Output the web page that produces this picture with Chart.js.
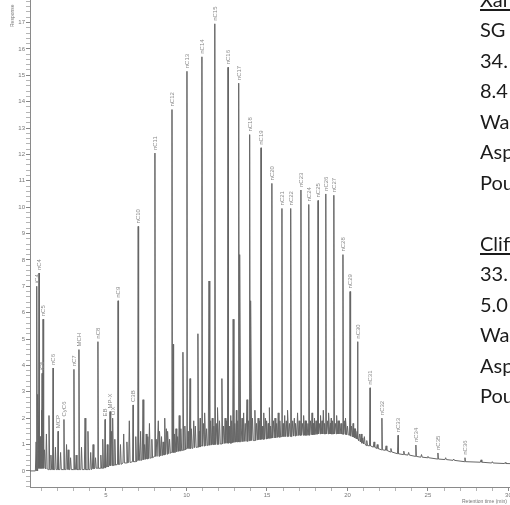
<!DOCTYPE html>
<html>
<head>
<meta charset="utf-8">
<title>Chromatogram</title>
<script src="https://cdn.jsdelivr.net/npm/chart.js@4.4.1/dist/chart.umd.min.js"></script>
<style>
  html, body { margin:0; padding:0; background:#fff; overflow:hidden; }
  .wrap { position:relative; width:510px; height:505px; overflow:hidden; }
  #gc { position:absolute; left:0; top:-4px; }
  .notes { position:absolute; left:480px; top:-16.5px; font-family:Lato, "Open Sans", sans-serif;
           font-size:20px; line-height:30.5px; color:#1b1b1b; white-space:nowrap; }
  .notes u { text-underline-offset:2px; }
</style>
</head>
<body>
<div class="wrap">
  <canvas id="gc" width="540" height="509"></canvas>
  <div class="notes">
    <div><u>Xanadu</u></div>
    <div>SG 0.85</div>
    <div>34. API</div>
    <div>8.4 cP</div>
    <div>Wax 5%</div>
    <div>Asphaltene</div>
    <div>Pour point</div>
    <div>&nbsp;</div>
    <div><u>Clifton</u></div>
    <div>33. API</div>
    <div>5.0 cP</div>
    <div>Wax 3%</div>
    <div>Asphaltene</div>
    <div>Pour point</div>
  </div>
</div>

<script>
// ********* Labelled peaks : retention time (min), response, baseline under the peak *********

const peakNames = ['iC4','nC4','iC5','nC5','nC6','MCP','CyC6','nC7','MCH','nC8','EB','MP-X','OX','nC9','C3B','nC10',
  'nC11','nC12','nC13','nC14','nC15','nC16','nC17','nC18','nC19','nC20','nC21','nC22','nC23','nC24','nC25',
  'nC26','nC27','nC28','nC29','nC30','nC31','nC32','nC33','nC34','nC35','nC36'];
const peakTimes = [0.71,0.84,1.03,1.09,1.71,2.02,2.39,3.01,3.32,4.50,4.94,5.25,5.43,5.75,6.68,7.00,
  8.04,9.10,10.03,10.96,11.77,12.58,13.26,13.94,14.63,15.31,15.93,16.49,17.11,17.61,18.17,
  18.66,19.16,19.72,20.16,20.65,21.40,22.14,23.14,24.25,25.62,27.30];
const peakTops = [7.0,7.5,3.7,5.75,3.9,1.5,1.95,3.85,4.6,4.9,1.95,2.25,2.0,6.45,2.5,9.27,
  12.05,13.7,15.15,15.7,16.95,15.3,14.7,12.75,12.25,10.9,9.95,9.95,10.65,10.1,10.25,
  10.5,10.45,8.2,6.8,4.9,3.15,2.0,1.35,0.98,0.68,0.5];
const peakFeet = [0.0,0.1,0.1,0.1,0.05,0.05,0.05,0.05,0.05,0.1,0.12,0.2,0.2,0.25,0.35,0.4,
  0.55,0.7,0.85,0.95,1.0,1.05,1.1,1.15,1.2,1.25,1.3,1.3,1.35,1.35,1.4,
  1.4,1.4,1.4,1.35,1.2,0.95,0.8,0.65,0.55,0.45,0.35];

// ********* Unlabelled peaks riding on the hump *********

const minorTimes = [0.66,0.77,0.80,0.92,0.97,1.18,1.30,1.46,1.58,1.86,2.18,2.55,2.65,2.80,3.15,3.48,3.70,3.88,
  4.05,4.20,4.35,4.68,4.80,5.08,5.35,5.55,5.90,6.10,6.30,6.45,6.85,7.15,7.30,7.50,7.70,7.85,
  8.25,8.45,8.65,8.85,9.18,9.35,9.55,9.78,9.90,10.22,10.45,10.71,10.85,11.15,11.40,11.60,11.95,
  12.20,12.40,12.75,12.90,13.10,13.32,13.55,13.76,14.00,14.25,14.45,14.80,15.00,15.15,15.50,15.70,
  16.10,16.30,16.70,16.90,17.30,17.45,17.80,17.95,18.35,18.50,18.85,19.00,19.35,19.50,19.90,
  20.35,20.50,20.85,21.05,21.20,21.65,21.85,22.40,22.70,23.50,23.80,24.60,25.00,26.10,26.60,
  28.30,29.00,29.80];
const minorTops = [1.1,2.9,1.7,1.3,2.3,0.8,1.4,2.1,0.6,0.9,0.7,1.0,0.8,0.5,0.6,0.9,2.0,1.5,
  0.7,1.0,0.5,0.6,1.2,1.0,1.5,1.2,1.0,1.4,1.1,1.9,1.3,1.5,2.7,1.4,1.8,1.2,
  1.9,1.3,2.0,1.5,4.8,1.6,2.1,4.5,1.7,3.5,1.9,5.2,2.0,2.2,7.2,2.0,2.4,
  3.5,2.0,2.1,5.75,2.3,8.2,2.2,2.7,6.45,2.3,2.0,2.2,1.9,2.4,2.0,2.2,
  2.1,2.3,2.0,2.2,2.1,1.9,2.2,2.0,2.1,2.3,2.2,2.0,2.1,1.9,2.0,
  1.8,1.6,1.4,1.3,1.15,1.1,1.0,0.95,0.85,0.75,0.7,0.62,0.55,0.5,0.45,
  0.42,0.35,0.32];
const minorFeet = [0.0,0.1,0.1,0.1,0.1,0.1,0.08,0.05,0.05,0.05,0.05,0.05,0.05,0.05,0.05,0.05,0.05,0.05,
  0.05,0.08,0.1,0.1,0.1,0.15,0.2,0.22,0.25,0.3,0.3,0.32,0.35,0.4,0.42,0.45,0.48,0.5,
  0.55,0.58,0.62,0.65,0.7,0.72,0.75,0.78,0.8,0.85,0.88,0.9,0.92,0.95,0.97,1.0,1.0,
  1.02,1.05,1.05,1.08,1.1,1.1,1.12,1.12,1.15,1.15,1.18,1.2,1.22,1.24,1.25,1.28,
  1.3,1.3,1.32,1.34,1.35,1.35,1.37,1.38,1.4,1.4,1.4,1.4,1.4,1.4,1.38,
  1.3,1.25,1.1,1.02,0.96,0.9,0.85,0.78,0.72,0.62,0.6,0.52,0.5,0.43,0.4,
  0.33,0.3,0.28];

// ********* Small ripples that fill the hump between the alkanes *********

const rippleTimes = [7.05,7.40,7.60,8.12,8.35,8.55,8.75,8.95,9.25,9.45,9.65,10.10,10.30,10.55,10.80,
  11.05,11.25,11.50,11.70,11.85,12.05,12.30,12.50,12.65,12.82,13.00,13.18,13.45,13.65,13.85,
  14.10,14.35,14.55,14.70,14.90,15.08,15.25,15.40,15.60,15.80,16.00,16.20,16.40,16.60,16.80,
  17.00,17.20,17.38,17.55,17.70,17.88,18.05,18.25,18.42,18.60,18.75,18.95,19.10,19.25,19.42,
  19.60,19.80,20.00,20.25,20.42,20.60,20.75,20.95];
const rippleTops = [1.1,1.0,1.3,1.2,1.5,1.1,1.6,1.2,1.4,1.3,1.6,1.5,1.6,1.7,1.5,
  1.8,1.6,1.9,1.7,1.8,1.9,1.7,1.9,1.7,1.9,1.8,1.9,2.0,1.8,1.9,
  2.0,1.8,1.9,1.7,2.0,1.8,1.7,1.9,1.8,1.9,1.8,1.9,1.8,1.9,1.8,
  1.9,1.8,1.9,1.8,1.9,1.8,1.9,1.8,1.9,1.8,1.9,1.8,1.9,1.8,1.9,
  1.8,1.9,1.7,1.7,1.6,1.5,1.4,1.25];
const rippleFeet = [0.42,0.44,0.46,0.55,0.57,0.6,0.63,0.67,0.7,0.74,0.77,0.85,0.86,0.89,0.91,
  0.94,0.96,0.98,1.0,1.0,1.02,1.04,1.05,1.06,1.07,1.09,1.1,1.11,1.12,1.14,
  1.15,1.17,1.19,1.2,1.21,1.23,1.24,1.25,1.27,1.28,1.3,1.3,1.31,1.32,1.33,
  1.35,1.35,1.35,1.36,1.37,1.38,1.39,1.4,1.4,1.4,1.4,1.4,1.4,1.4,1.4,
  1.4,1.39,1.37,1.32,1.28,1.22,1.15,1.05];

// trace ends (time, response)
const edgeTimes = [0.28, 31.96];
const edgeLevels = [0.0, 0.25];

// axis labels
const xLabels = [5, 10, 15, 20, 25, 30];
const yLabels = [0,1,2,3,4,5,6,7,8,9,10,11,12,13,14,15,16,17];


// ********* Build the trace *********

const trace = [];
const addPeak = (t, top, foot, w) => {
  trace.push({x: t - w, y: foot}, {x: t, y: top}, {x: t + w, y: foot});
};
edgeTimes.forEach((t, i) => trace.push({x: t, y: edgeLevels[i]}));
peakTimes.forEach((t, i) => addPeak(t, peakTops[i], peakFeet[i], 0.03));
minorTimes.forEach((t, i) => addPeak(t, minorTops[i], minorFeet[i], 0.045));
rippleTimes.forEach((t, i) => addPeak(t, rippleTops[i], rippleFeet[i], 0.05));
trace.sort((a, b) => a.x - b.x);


// ********* Plugin : peak names + axis titles *********

const peakText = {
  id: 'peakText',
  afterDatasetsDraw(chart) {
    const {ctx, scales: {x, y}} = chart;
    ctx.save();
    ctx.fillStyle = '#8a8a8a';
    ctx.font = '6px "Liberation Sans", sans-serif';
    ctx.textAlign = 'left';
    ctx.textBaseline = 'middle';
    peakNames.forEach((name, i) => {
      ctx.save();
      ctx.translate(x.getPixelForValue(peakTimes[i]), y.getPixelForValue(peakTops[i]) - 3);
      ctx.rotate(-Math.PI / 2);
      ctx.fillText(name, 0, 0);
      ctx.restore();
    });

    // Response (top left)
    ctx.font = '5px "Liberation Sans", sans-serif';
    ctx.fillStyle = '#777';
    ctx.save();
    ctx.translate(13, 31);
    ctx.rotate(-Math.PI / 2);
    ctx.fillText('Response', 0, 0);
    ctx.restore();

    // Retention time (bottom right)
    ctx.fillText('Retention time (min)', 462, 506);
    ctx.restore();
  }
};


// ********* Chart *********

const ctx = document.getElementById('gc').getContext('2d');
const gc = new Chart(ctx, {
  type: 'line',
  data: {
    datasets: [{
      label: 'Signal',
      data: trace,
      borderColor: '#666',
      borderWidth: 1,
      pointRadius: 0,
      tension: 0,
      fill: false
    }]
  },
  options: {
    responsive: false,
    animation: false,
    events: [],
    parsing: false,
    layout: { padding: 0 },
    plugins: { legend: { display: false }, tooltip: { enabled: false } },
    scales: {
      x: {
        type: 'linear',
        min: 0.28,
        max: 31.96,
        border: { display: true, color: '#8a8a8a', width: 1 },
        grid: { drawOnChartArea: false, drawTicks: true, tickLength: 4,
                tickColor: c => xLabels.includes(c.tick.value) ? '#888' : '#b5b5b5' },
        ticks: {
          autoSkip: false, maxRotation: 0, padding: 1, color: '#777',
          font: { size: 6, family: '"Liberation Sans", sans-serif' },
          callback: v => xLabels.includes(v) ? String(v) : ''
        },
        afterBuildTicks: s => {
          const t = [];
          for (let v = 1; v <= 31; v++) t.push({ value: v });
          s.ticks = t;
        },
        afterFit: s => { s.height = 18; }
      },
      y: {
        type: 'linear',
        min: -0.61,
        max: 17.83,
        border: { display: true, color: '#8a8a8a', width: 1 },
        grid: { drawOnChartArea: false, drawTicks: true, tickLength: 4,
                tickColor: c => Number.isInteger(Math.round(c.tick.value * 10) / 10) ? '#888' : '#b5b5b5' },
        ticks: {
          autoSkip: false, padding: 1, color: '#777',
          font: { size: 6, family: '"Liberation Sans", sans-serif' },
          callback: v => {
            const r = Math.round(v * 10) / 10;
            return yLabels.includes(r) ? String(r) : '';
          }
        },
        afterBuildTicks: s => {
          const t = [];
          for (let k = -3; k <= 89; k++) t.push({ value: k / 5 });
          s.ticks = t;
        },
        afterFit: s => { s.width = 30; }
      }
    }
  },
  plugins: [peakText]
});
</script>
</body>
</html>
